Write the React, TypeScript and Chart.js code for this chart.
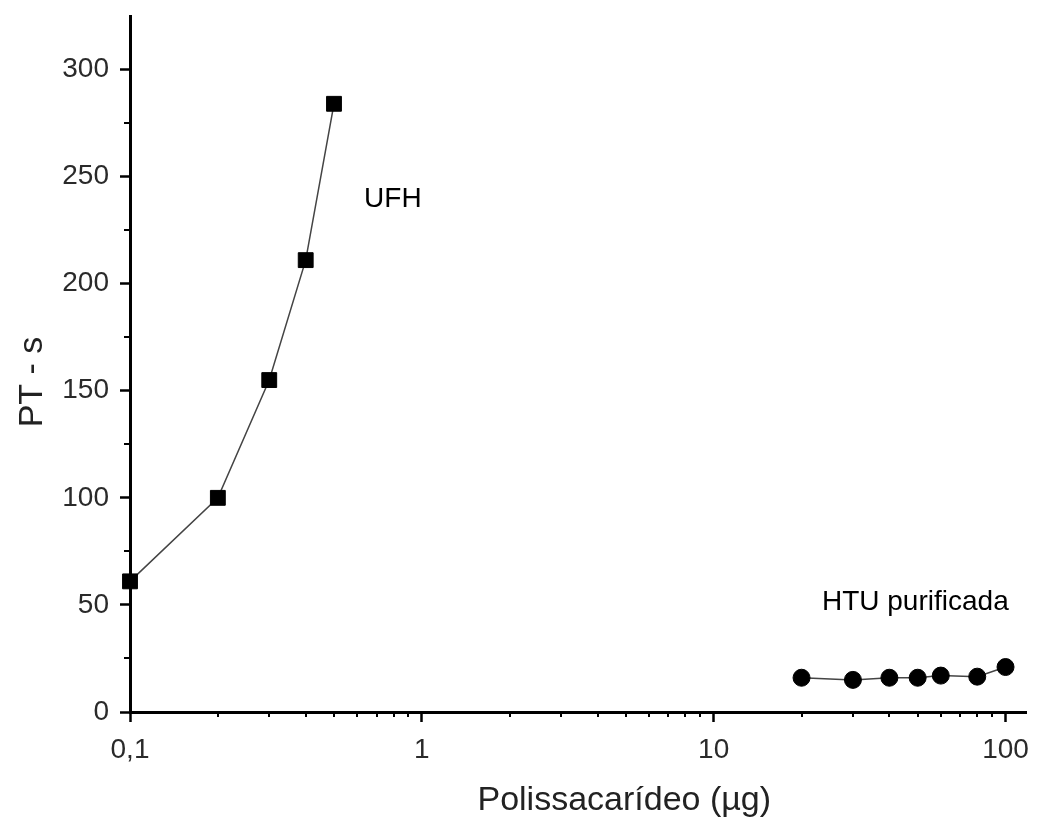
import React, { useEffect, useRef } from "react";
import { Chart, registerables } from "chart.js";

Chart.register(...registerables);

const ufhX = [0.1, 0.2, 0.3, 0.4, 0.5];
const ufhY = [61, 100, 155, 211, 284];
const htuX = [20, 30, 40, 50, 60, 80, 100];
const htuY = [16, 15, 16, 16, 17, 16.5, 21];
const xMajorTicks = [0.1, 1, 10, 100];
const xMinorTicks = [0.2, 0.3, 0.4, 0.5, 0.6, 0.7, 0.8, 0.9, 2, 3, 4, 5, 6, 7, 8, 9, 20, 30, 40, 50, 60, 70, 80, 90];
const yMajorTicks = [0, 50, 100, 150, 200, 250, 300];
const yMinorTicks = [25, 75, 125, 175, 225, 275];
const xTickLabels = ["0,1", "1", "10", "100"];
const seriesLabels = ["UFH", "HTU purificada"];
const annotationX = [0.634, 23.5];
const annotationY = [236, 47.7];
const xTitle = "Polissacarídeo (µg)";
const yTitle = "PT - s";

const FONT = "'Liberation Sans', Arial, sans-serif";

const decorPlugin = {
  id: "decor",
  afterDraw(chart: any) {
    const ctx = chart.ctx;
    const xs = chart.scales.x;
    const ys = chart.scales.y;
    const area = chart.chartArea;
    ctx.save();
    ctx.strokeStyle = "#000";
    ctx.lineWidth = 2;
    ctx.beginPath();
    xMinorTicks.forEach((v) => {
      const px = Math.round(xs.getPixelForValue(v));
      ctx.moveTo(px, area.bottom);
      ctx.lineTo(px, area.bottom + 5);
    });
    yMinorTicks.forEach((v) => {
      const py = Math.round(ys.getPixelForValue(v));
      ctx.moveTo(area.left - 6, py);
      ctx.lineTo(area.left, py);
    });
    ctx.stroke();

    ctx.fillStyle = "#000";
    ctx.font = `28px ${FONT}`;
    ctx.textAlign = "left";
    ctx.textBaseline = "alphabetic";
    seriesLabels.forEach((t, i) => {
      ctx.fillText(t, xs.getPixelForValue(annotationX[i]), ys.getPixelForValue(annotationY[i]));
    });

    ctx.fillStyle = "#222";
    ctx.font = `34px ${FONT}`;
    ctx.textAlign = "center";
    ctx.fillText(xTitle, (area.left + area.right) / 2 + 46, chart.height - 8);
    ctx.save();
    ctx.translate(42, (area.top + area.bottom) / 2 + 18);
    ctx.rotate(-Math.PI / 2);
    ctx.fillText(yTitle, 0, 0);
    ctx.restore();
    ctx.restore();
  },
};

export default function App() {
  const ref = useRef<HTMLCanvasElement>(null);
  useEffect(() => {
    document.body.style.margin = "0";
    const chart = new Chart(ref.current!, {
      type: "line",
      data: {
        datasets: [
          {
            label: seriesLabels[0],
            data: ufhX.map((x, i) => ({ x, y: ufhY[i] })),
            borderColor: "#444",
            borderWidth: 1.5,
            pointStyle: "rect",
            pointRadius: 10.5,
            pointBackgroundColor: "#000",
            pointBorderColor: "#000",
            pointBorderWidth: 1,
            clip: false,
          },
          {
            label: seriesLabels[1],
            data: htuX.map((x, i) => ({ x, y: htuY[i] })),
            borderColor: "#444",
            borderWidth: 1.5,
            pointStyle: "circle",
            pointRadius: 8.5,
            pointBackgroundColor: "#000",
            pointBorderColor: "#000",
            pointBorderWidth: 1,
            clip: false,
          },
        ],
      },
      options: {
        animation: false,
        responsive: false,
        layout: { padding: { top: 16, right: 4, left: 0, bottom: 0 } },
        plugins: { legend: { display: false }, tooltip: { enabled: false } },
        scales: {
          x: {
            type: "logarithmic",
            min: 0.1,
            max: 118,
            afterBuildTicks: (s: any) => {
              s.ticks = xMajorTicks.map((v) => ({ value: v }));
            },
            afterFit: (s: any) => {
              s.height = 106;
              s.paddingLeft = 0;
              s.paddingRight = 0;
            },
            ticks: {
              autoSkip: false,
              maxRotation: 0,
              padding: 11,
              color: "#2a2a2a",
              font: { family: FONT, size: 28 },
              callback: (v: any) => {
                const i = xMajorTicks.indexOf(Number(v));
                return i >= 0 ? xTickLabels[i] : "";
              },
            },
            grid: {
              display: true,
              drawOnChartArea: false,
              drawTicks: true,
              tickLength: 10,
              tickWidth: 2.5,
              tickColor: "#000",
            },
            border: { display: true, color: "#000", width: 3 },
          },
          y: {
            type: "linear",
            min: 0,
            max: 325,
            afterBuildTicks: (s: any) => {
              s.ticks = yMajorTicks.map((v) => ({ value: v }));
            },
            afterFit: (s: any) => {
              s.width = 130;
              s.paddingTop = 0;
              s.paddingBottom = 0;
            },
            ticks: {
              padding: 11,
              color: "#2a2a2a",
              font: { family: FONT, size: 28 },
            },
            grid: {
              display: true,
              drawOnChartArea: false,
              drawTicks: true,
              tickLength: 10,
              tickWidth: 2.5,
              tickColor: "#000",
            },
            border: { display: true, color: "#000", width: 3 },
          },
        },
      },
      plugins: [decorPlugin],
    } as any);
    return () => chart.destroy();
  }, []);
  return (
    <div style={{ width: 1038, height: 818, background: "#fff" }}>
      <canvas ref={ref} width={1038} height={818} style={{ display: "block" }} />
    </div>
  );
}
